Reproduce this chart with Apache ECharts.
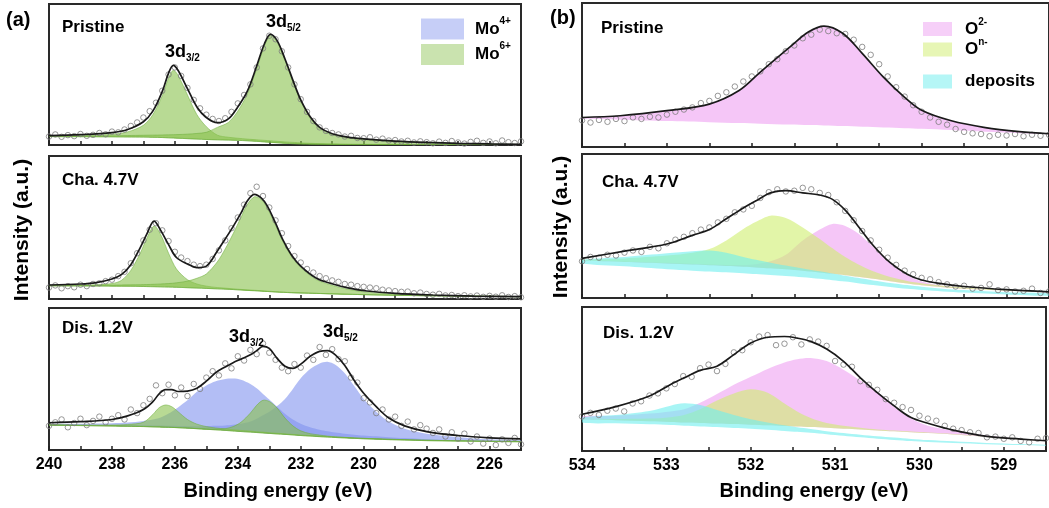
<!DOCTYPE html>
<html><head><meta charset="utf-8">
<script src="https://cdn.jsdelivr.net/npm/echarts@6/dist/echarts.min.js"></script>
<style>html,body{margin:0;padding:0;background:#fff}#c{width:1049px;height:508px}</style>
</head><body><div id="c"></div>
<script>
// ---------- (a) Mo 3d : Pristine ----------
const aPriE = [240,239,238,237.5,237,236.7,236.4,236.2,236.05,235.9,235.6,235.3,235,234.65,234.3,234,233.7,233.4,233.15,232.96,232.75,232.5,232.2,232,231.7,231.4,231,230.5,230,229,228,227,226,225];
const aPriFit = [6.6,7.3,8.8,11.0,16.5,24,38,51,56.5,53,40,27,19.5,15.8,18.5,27,38,56,72,78.5,74,61,43,32,20,12.5,8,5.6,4.4,2.8,1.8,1.2,0.8,0.5];
const aPriBg = [6.0,5.9,5.8,5.7,5.6,5.45,5.3,5.1,5.0,4.8,4.5,4.2,3.9,3.7,3.5,3.3,3.0,2.6,2.2,1.9,1.6,1.2,0.9,0.7,0.6,0.5,0.4,0.35,0.3,0.25,0.2,0.15,0.1,0.1];
const aPri32 = [6.3,6.6,7.6,9.3,14,21.5,35,47.5,53,49.5,35.5,21.5,13,7.0,5.5,4.8,4.2,3.7,3.3,3.0,2.6,2.2,1.8,1.5,1.2,1.0,0.8,0.6,0.5,0.4,0.3,0.25,0.2,0.15];
const aPri52 = [6.3,6.3,6.5,6.7,6.9,7.0,7.1,7.2,7.3,7.4,7.7,8.2,9.0,12.5,16,24,36,54,70.5,77.5,73,60,42,31,19,11.5,7.3,5.0,3.9,2.4,1.5,1.0,0.6,0.4];
// ---------- (a) Cha. 4.7V ----------
const aChaE = [240,239,238.5,238,237.7,237.4,237.1,236.9,236.66,236.45,236.2,235.95,235.6,235.3,235,234.65,234.4,234.14,233.9,233.7,233.47,233.25,233.06,232.8,232.55,232.3,232,231.5,230.95,230.5,229.9,229,227.8,226.5,225];
const aChaFit = [9.8,10.5,11.5,14,17,24,36,45,54.5,48,38,29,24.5,21.9,23,33.6,42,51,60,68.5,73.2,70.5,65,53,40.6,31,23,14.5,10.3,7.8,5.6,4.0,2.8,2.0,1.6];
const aChaBg = [9.2,9.1,9.05,9.0,8.95,8.9,8.8,8.7,8.6,8.5,8.35,8.2,7.9,7.65,7.4,7.1,6.9,6.6,6.3,6.0,5.8,5.5,5.25,4.9,4.65,4.4,4.2,3.9,3.55,3.3,3.0,2.6,2.2,1.9,1.6];
const aCha32 = [9.4,9.6,9.9,10.8,13,20,32,42,51,45,32,21,13.5,10.5,9.0,8.0,7.6,7.1,6.7,6.4,6.1,5.8,5.5,5.1,4.8,4.55,4.3,4.0,3.6,3.35,3.05,2.65,2.25,1.95,1.65];
const aCha52 = [9.5,9.5,9.6,9.7,9.8,9.9,10.0,10.1,10.3,10.5,10.8,11.3,12.5,14.5,17.5,26,35,46,57,66,71.5,69.5,63.5,51.5,39.5,30,22,13.5,9.3,6.8,4.8,3.4,2.6,2.1,1.7];
// ---------- (a) Dis. 1.2V ----------
const aDisE = [240,239,238,237.5,237,236.7,236.5,236.3,236.1,235.9,235.6,235.3,235,234.7,234.4,234.15,233.9,233.6,233.4,233.2,233,232.75,232.5,232.25,232,231.7,231.4,231.15,230.9,230.6,230.3,230,229.6,229.2,228.7,228,227,226,225];
const aDisFit = [19.2,20.0,21.5,24,28.5,34,39.5,42.5,42.5,41.2,41.5,43.5,48.5,54.5,58.5,61.5,64,67,70,73,71.5,64.5,59,57.5,60.5,66,69.5,70,67,59.5,49,40,30.5,22.5,17,13,10.2,8.6,7.8];
const aDisBg = [17.5,17.2,16.9,16.7,16.5,16.3,16.2,16.0,15.9,15.7,15.4,15.0,14.6,14.2,13.8,13.4,13.0,12.6,12.3,12.0,11.7,11.3,11.0,10.6,10.2,9.8,9.4,9.1,8.8,8.5,8.2,7.9,7.6,7.3,7.0,6.6,6.3,6.0,5.8];
const aDisMo4a = [18.3,18.4,18.8,19.3,20.5,21.5,22.5,24.5,27,30,35,41,45.5,48.5,50,50.3,49.5,46.5,43.5,39.5,35.5,30.5,25.5,21.5,18.5,16,14.3,13.2,12.3,11.5,10.8,10.2,9.6,9.0,8.4,7.6,6.8,6.3,6.0];
const aDisMo4b = [18.0,17.8,17.6,17.5,17.4,17.3,17.2,17.1,17.0,16.9,16.8,16.8,16.8,17.0,17.3,17.8,18.5,20,22,24.5,27,31,36,43,50.5,57,61,62.2,60,54,45,36,27,20,15,11.5,9.0,7.5,6.8];
const aDisMo6a = [17.8,17.6,17.6,18.0,19.5,25,29.8,31.7,30.5,27,21.5,18.2,16.5,15.5,14.8,14.3,13.8,13.3,12.9,12.6,12.2,11.8,11.4,11.0,10.6,10.2,9.8,9.4,9.1,8.8,8.5,8.2,7.9,7.6,7.3,6.9,6.5,6.2,6.0];
const aDisMo6b = [17.6,17.3,17.0,16.8,16.6,16.4,16.3,16.1,16.0,15.8,15.5,15.1,14.8,14.6,15.0,16.5,19.5,26,31.5,35.0,34.2,29.5,22.5,17,13.5,11.5,10.5,9.8,9.3,8.9,8.5,8.2,7.9,7.6,7.3,6.9,6.5,6.2,6.0];
// ---------- (a) measured points ----------
const aDotE = [240,239.8,239.6,239.4,239.2,239,238.8,238.6,238.4,238.2,238,237.8,237.6,237.4,237.2,237,236.8,236.6,236.4,236.2,236,235.8,235.6,235.4,235.2,235,234.8,234.6,234.4,234.2,234,233.8,233.6,233.4,233.2,233,232.8,232.6,232.4,232.2,232,231.8,231.6,231.4,231.2,231,230.8,230.6,230.4,230.2,230,229.8,229.6,229.4,229.2,229,228.8,228.6,228.4,228.2,228,227.8,227.6,227.4,227.2,227,226.8,226.6,226.4,226.2,226,225.8,225.6,225.4,225.2,225];
const aPriDots = [6.0,7.5,5.8,7.0,6.3,7.8,6.5,7.2,8.5,7.6,9.5,9.0,11.0,13.5,16.0,19.5,24.0,30.0,38.5,50.0,55.0,49.0,40.5,32.0,26.0,21.5,18.5,17.0,19.0,23.5,29.5,35.5,43.0,55.0,68.5,77.5,75.0,66.5,55.0,43.0,32.5,23.5,17.0,12.5,10.0,8.5,7.5,6.0,6.5,5.0,4.8,5.5,3.8,4.5,3.2,3.5,2.5,3.0,1.8,2.6,2.0,1.2,2.4,1.5,2.8,1.8,1.0,2.2,3.0,1.5,2.5,1.2,3.2,2.0,1.4,2.6];
const aChaDots = [8.0,9.5,7.5,9.0,8.2,10.0,9.0,10.5,11.0,12.5,13.5,16.0,19.0,25.0,32.0,41.0,48.5,53.0,48.0,40.5,33.0,29.0,26.5,24.0,23.0,24.0,28.0,34.0,41.0,49.5,57.0,66.0,74.0,78.5,72.0,64.0,55.0,46.0,37.0,30.0,25.5,21.0,18.5,16.0,14.5,13.0,12.0,10.5,10.0,9.0,8.5,8.0,7.5,6.5,6.0,5.5,5.0,5.2,4.0,4.5,3.5,3.0,3.6,2.5,2.8,2.0,2.6,1.8,2.4,1.5,2.2,1.6,2.6,1.4,2.0,1.2];
const aDisDots = [17.0,19.5,21.5,16.0,19.0,22.0,17.5,20.5,23.5,19.5,22.0,24.5,21.5,28.5,26.0,31.5,36.0,45.5,40.0,46.0,38.5,44.0,38.0,46.5,43.0,51.0,55.5,52.5,61.0,57.5,66.0,63.0,70.5,67.5,75.0,68.5,63.5,58.0,55.5,60.5,58.0,66.5,63.5,72.5,67.0,71.0,64.0,62.5,51.0,47.5,36.5,33.5,26.0,28.5,21.5,23.5,17.0,20.0,14.5,17.5,15.0,12.0,14.5,9.5,12.5,8.0,11.5,6.0,9.5,4.5,8.0,3.5,7.5,5.0,8.5,4.0];

// ---------- (b) O 1s : Pristine ----------
const bPriE = [534,533.55,533,532.5,532.15,531.9,531.55,531.33,531.15,530.93,530.7,530.45,530.2,530,529.65,529.25,528.85,528.5];
const bPriFit = [20.5,21.7,25.2,29.8,39.2,52,69.5,80,84,79,65,48.5,34.5,25.5,18.2,13.5,10.7,9.2];
const bPriBg = [19.8,19.0,18.0,17.2,16.6,16.2,15.6,15.2,14.9,14.5,14.1,13.6,13.1,12.7,11.8,10.6,9.6,8.9];
// ---------- (b) Cha. 4.7V ----------
const bChaE = [534,533.5,533,532.7,532.5,532.3,532.1,531.95,531.78,531.6,531.4,531.2,531.05,530.9,530.75,530.57,530.37,530.17,530,529.75,529.5,529,528.5];
const bChaFit = [27.5,32.5,37.5,43.5,47.5,55,62.5,67.5,73,74.5,73,71.5,68.5,61,50,36.5,24.5,16.5,12.5,9.8,8.0,5.8,4.3];
const bChaBgU = [26.0,25.0,24.0,23.2,22.7,22.2,21.7,21.2,20.6,19.9,18.9,17.7,16.8,15.8,14.7,13.3,11.6,10.0,8.8,7.4,6.4,5.0,4.0];
const bChaBgL = [24.0,22.0,20.0,19.0,18.4,17.8,17.2,16.6,16.0,15.3,14.4,13.3,12.4,11.4,10.3,9.0,7.7,6.4,5.6,4.6,3.8,2.5,1.6];
const bChaDep = [26.5,28.5,31,32.5,33,31.5,28.5,26.5,24.5,22.5,20.5,18.5,17,15.5,14,12.2,10.5,9.0,7.8,6.5,5.5,4.0,3.2];
const bChaOn = [26.5,27.5,29.5,31.5,34,40,48,53,57.2,55.5,49,41,34.5,28.5,23.5,18.5,14.5,11.8,10.2,8.5,7.3,5.6,4.4];
const bChaO2 = [26.2,25.3,24.4,23.7,23.3,23.0,23.0,23.5,25.5,30,40,47.5,51.4,50,45,35.5,24.5,16,11.5,8.5,7.2,5.4,4.3];
// ---------- (b) Dis. 1.2V ----------
const bDisE = [534,533.6,533.2,532.95,532.79,532.6,532.4,532.2,532,531.8,531.6,531.45,531.29,531.1,530.9,530.7,530.5,530.3,530.1,529.9,529.6,529.2,528.8,528.5];
const bDisFit = [25.5,30.8,38.2,46.2,50.8,56.0,58.9,66.9,75.0,79.0,79.5,78.4,76.1,70.8,62.3,50.8,40.5,31.3,23.2,19.3,14.5,10.1,8.3,7.1];
const bDisBgU = [22.0,21.4,20.7,20.2,19.8,19.5,19.1,18.7,18.3,17.8,17.4,17.0,16.6,16.1,15.5,15.0,14.3,13.7,13.1,12.5,11.5,9.8,8.0,7.0];
const bDisBgL = [19.8,19.2,18.5,18.0,17.6,17.1,16.6,16.0,15.5,14.7,13.9,13.3,12.7,11.7,10.6,9.5,8.5,7.7,6.9,6.2,5.5,4.7,4.1,3.7];
const bDisDep = [23.2,25.0,27.8,31.5,33.1,32.0,28.5,25.0,22.0,19.8,17.8,16.5,15.3,13.8,12.5,11.3,10.2,9.3,8.4,7.6,6.7,5.6,4.8,4.3];
const bDisOn = [22.3,22.2,22.5,23.5,25,29,35,40,42.8,40.5,33,27.5,23,19.5,17.5,16.2,15.0,14.2,13.5,12.8,11.8,10.0,8.2,7.2];
const bDisO2 = [24.0,24.5,26.0,27.5,29.0,33.5,39.5,46,51.5,57,61.5,63.8,64.6,62.5,56.5,49,41,30.5,22.5,17.5,14.0,10.8,8.4,7.2];
// ---------- (b) measured points ----------
const bDotE = [534,533.9,533.8,533.7,533.6,533.5,533.4,533.3,533.2,533.1,533,532.9,532.8,532.7,532.6,532.5,532.4,532.3,532.2,532.1,532,531.9,531.8,531.7,531.6,531.5,531.4,531.3,531.2,531.1,531,530.9,530.8,530.7,530.6,530.5,530.4,530.3,530.2,530.1,530,529.9,529.8,529.7,529.6,529.5,529.4,529.3,529.2,529.1,529,528.9,528.8,528.7,528.6,528.5];
const bPriDots = [18.5,17.0,18.8,17.5,19.5,18.0,20.5,19.5,21.0,20.5,22.5,24.5,26.0,27.5,30.5,32.0,35.5,38.0,42.0,45.5,49.0,52.5,57.5,61.0,66.5,70.5,75.5,78.0,81.5,80.5,79.0,78.5,74.5,69.5,64.0,57.5,49.0,41.5,35.0,29.0,24.5,20.5,17.5,15.5,12.5,10.5,9.5,9.0,7.5,8.5,8.0,9.0,7.5,8.5,7.8,8.5];
const bChaDots = [25.5,28.5,28.0,30.0,29.5,31.5,33.0,32.0,35.5,34.5,38.0,40.5,42.5,45.0,47.5,49.0,52.5,55.0,59.5,61.5,64.0,69.5,73.5,75.5,74.0,74.5,76.5,75.5,73.0,71.5,66.5,60.5,54.0,46.5,40.0,33.5,28.0,23.0,19.0,16.5,14.0,13.0,11.0,9.5,8.0,8.5,6.5,7.0,9.5,5.5,6.0,4.5,5.0,6.5,3.5,4.5];
const bDisDots = [24.0,26.5,25.0,28.0,29.5,27.5,33.0,34.5,38.5,40.0,43.5,46.5,52.0,51.5,57.5,60.0,55.5,60.5,68.5,70.0,75.5,79.5,80.5,73.5,74.5,79.0,74.0,77.5,76.0,73.0,62.5,60.0,58.5,48.5,46.0,42.5,36.0,33.5,30.5,28.5,24.5,22.5,21.0,17.5,15.5,14.5,13.0,12.5,9.5,10.0,8.5,9.5,7.0,6.0,8.5,9.0];

// ---------- labels ----------
const aTicksFmt = v => (Math.round(v) % 2 === 0 ? String(v) : '');
const bTicksFmt = v => (Number.isInteger(v) ? String(v) : '');
const panelNames = ['Pristine', 'Cha. 4.7V', 'Dis. 1.2V'];

// ---------- style ----------
const FONT = 'Arial, "Liberation Sans", Helvetica, sans-serif';
const C = {
  mo4: 'rgba(128,147,238,0.6)', mo6: 'rgba(137,193,77,0.6)',
  o2: 'rgba(238,160,242,0.6)', on: 'rgba(207,238,110,0.6)', dep: 'rgba(110,238,238,0.6)'
};

const chart = echarts.init(document.getElementById('c'), null, { renderer: 'canvas' });

const gridBox = [
  { left: 49, top: 4, width: 472, height: 141 },
  { left: 49, top: 156, width: 472, height: 143 },
  { left: 49, top: 308, width: 472, height: 142 },
  { left: 582, top: 3, width: 468, height: 144 },
  { left: 582, top: 154, width: 468, height: 144 },
  { left: 582, top: 307, width: 468, height: 144 }
];
const grids = gridBox.map(g => Object.assign({ show: true, borderColor: '#2a2a2a', borderWidth: 2, backgroundColor: 'transparent' }, g));

const xAxes = gridBox.map((g, i) => {
  const left = i < 3;
  return {
    type: 'value', gridIndex: i, inverse: true,
    min: left ? 225 : 528.5, max: left ? 240 : 534, interval: left ? 1 : 0.5,
    axisLine: { show: false },
    axisTick: { show: true, inside: true, length: 4, lineStyle: { color: '#222', width: 1.5 } },
    axisLabel: { show: i === 2 || i === 5, formatter: left ? aTicksFmt : bTicksFmt, fontSize: 16, fontWeight: 'bold', color: '#000', fontFamily: FONT, margin: 7, showMinLabel: true, showMaxLabel: true },
    splitLine: { show: false }
  };
});
const yAxes = gridBox.map((g, i) => ({ type: 'value', gridIndex: i, min: 0, max: 100, show: false }));

function pairs(E, Y) { return E.map((e, i) => [e, Y[i]]); }

function band(name, gi, E, top, bottom, color, stroke) {
  return {
    type: 'custom', name: name, xAxisIndex: gi, yAxisIndex: gi, coordinateSystem: 'cartesian2d',
    clip: true, silent: true, z: 2,
    itemStyle: { color: color },
    data: pairs(E, top),
    encode: { x: 0, y: 1 },
    renderItem: function (params, api) {
      if (params.dataIndex !== 0) return null;
      const pts = [];
      for (let i = 0; i < E.length; i++) pts.push(api.coord([E[i], top[i]]));
      for (let i = E.length - 1; i >= 0; i--) pts.push(api.coord([E[i], bottom[i]]));
      return {
        type: 'polygon',
        shape: { points: pts, smooth: 0.3 },
        style: { fill: color, stroke: stroke || null, lineWidth: stroke ? 0.8 : 0 }
      };
    }
  };
}
function fit(gi, E, Y) {
  return { type: 'line', name: 'fit', xAxisIndex: gi, yAxisIndex: gi, data: pairs(E, Y), smooth: 0.35, symbol: 'none', showSymbol: false, silent: true, z: 5, lineStyle: { color: '#1a1a1a', width: 1.7 } };
}
function dots(gi, E, Y) {
  return { type: 'scatter', name: 'data', xAxisIndex: gi, yAxisIndex: gi, data: pairs(E, Y), symbol: 'circle', symbolSize: 5.5, silent: true, z: 4, itemStyle: { color: 'rgba(255,255,255,0)', borderColor: '#7d7d7d', borderWidth: 1 } };
}

const G6 = 'rgba(110,175,60,0.7)';
const series = [
  band('Mo6+', 0, aPriE, aPri32, aPriBg, C.mo6, G6),
  band('Mo6+', 0, aPriE, aPri52, aPriBg, C.mo6, G6),
  dots(0, aDotE, aPriDots), fit(0, aPriE, aPriFit),

  band('Mo6+', 1, aChaE, aCha32, aChaBg, C.mo6, G6),
  band('Mo6+', 1, aChaE, aCha52, aChaBg, C.mo6, G6),
  dots(1, aDotE, aChaDots), fit(1, aChaE, aChaFit),

  band('Mo4+', 2, aDisE, aDisMo4a, aDisBg, C.mo4),
  band('Mo4+', 2, aDisE, aDisMo4b, aDisBg, C.mo4),
  band('Mo6+', 2, aDisE, aDisMo6a, aDisBg, C.mo6, G6),
  band('Mo6+', 2, aDisE, aDisMo6b, aDisBg, C.mo6, G6),
  dots(2, aDotE, aDisDots), fit(2, aDisE, aDisFit),

  band('O2-', 3, bPriE, bPriFit, bPriBg, C.o2),
  dots(3, bDotE, bPriDots), fit(3, bPriE, bPriFit),

  band('O2-', 4, bChaE, bChaO2, bChaBgU, C.o2),
  band('On-', 4, bChaE, bChaOn, bChaBgU, C.on),
  band('deposits', 4, bChaE, bChaDep, bChaBgL, C.dep),
  dots(4, bDotE, bChaDots), fit(4, bChaE, bChaFit),

  band('O2-', 5, bDisE, bDisO2, bDisBgU, C.o2),
  band('On-', 5, bDisE, bDisOn, bDisBgU, C.on),
  band('deposits', 5, bDisE, bDisDep, bDisBgL, C.dep),
  dots(5, bDotE, bDisDots), fit(5, bDisE, bDisFit)
];

const mainTok = (lh, pad) => ({ fontSize: 17, fontWeight: 'bold', fontFamily: FONT, color: '#000', lineHeight: lh, padding: [0, 0, 0, pad] });
const supTok = { fontSize: 10, fontWeight: 'bold', fontFamily: FONT, color: '#000', verticalAlign: 'top' };
const legendFmt = {
  'Mo4+': '{m|Mo}{s|4+}', 'Mo6+': '{m|Mo}{s|6+}',
  'O2-': '{m|O}{s|2-}', 'On-': '{m|O}{s|n-}', 'deposits': '{m|deposits}'
};
const legends = [
  { data: ['Mo4+', 'Mo6+'], left: 416, top: 11, orient: 'vertical', icon: 'rect', itemWidth: 43, itemHeight: 21, itemGap: 2, selectedMode: false,
    itemStyle: { opacity: 0.75 }, formatter: n => legendFmt[n], textStyle: { rich: { m: mainTok(26, 6), s: supTok } } },
  { data: ['O2-', 'On-'], left: 918, top: 12, orient: 'vertical', icon: 'rect', itemWidth: 29, itemHeight: 14, itemGap: 0, selectedMode: false,
    itemStyle: { opacity: 0.85 }, formatter: n => legendFmt[n], textStyle: { rich: { m: mainTok(24, 8), s: supTok } } },
  { data: ['deposits'], left: 918, top: 68, orient: 'vertical', icon: 'rect', itemWidth: 29, itemHeight: 14, selectedMode: false,
    itemStyle: { opacity: 0.85 }, formatter: n => legendFmt[n], textStyle: { rich: { m: mainTok(24, 8) } } }
];

function txt(x, y, text, size, align, extra) {
  return Object.assign({ type: 'text', x: x, y: y, silent: true, z: 10,
    style: { text: text, font: 'bold ' + size + 'px ' + FONT, fill: '#000', align: align || 'left', verticalAlign: 'middle' } }, extra || {});
}
const subRich = {
  m: { fontSize: 18, fontWeight: 'bold', fontFamily: FONT, fill: '#000', lineHeight: 22 },
  s: { fontSize: 10, fontWeight: 'bold', fontFamily: FONT, fill: '#000', verticalAlign: 'bottom' }
};
function sub(x, y, main, s) {
  return { type: 'text', x: x, y: y, silent: true, z: 10,
    style: { text: '{m|' + main + '}{s|' + s + '}', rich: subRich, align: 'left', verticalAlign: 'middle' } };
}

const graphics = [
  txt(6, 20, '(a)', 20), txt(550, 18, '(b)', 20),
  txt(62, 27, panelNames[0], 17), txt(62, 180, panelNames[1], 17), txt(62, 328, panelNames[2], 17),
  txt(601, 28, panelNames[0], 17), txt(602, 182, panelNames[1], 17), txt(603, 333, panelNames[2], 17),
  sub(165, 52, '3d', '3/2'), sub(266, 22, '3d', '5/2'),
  sub(229, 337, '3d', '3/2'), sub(323, 332, '3d', '5/2'),
  txt(278, 491, 'Binding energy (eV)', 20, 'center'),
  txt(814, 491, 'Binding energy (eV)', 20, 'center'),
  txt(22, 230, 'Intensity (a.u.)', 21, 'center', { rotation: Math.PI / 2 }),
  txt(561, 227, 'Intensity (a.u.)', 21, 'center', { rotation: Math.PI / 2 })
];

chart.setOption({
  backgroundColor: '#ffffff',
  animation: false,
  grid: grids, xAxis: xAxes, yAxis: yAxes,
  legend: legends,
  series: series,
  graphic: graphics
});
</script></body></html>
